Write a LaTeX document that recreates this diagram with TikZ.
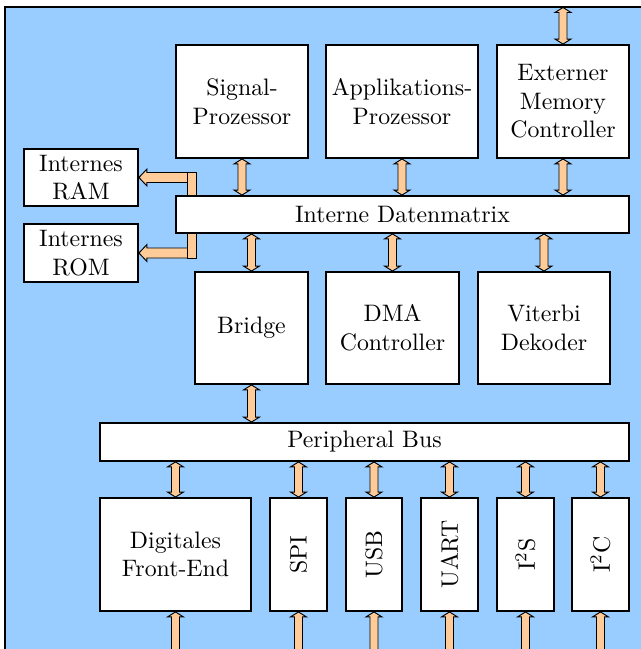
\documentclass[tikz,border=0pt]{standalone}
\usepackage{graphicx}
\usetikzlibrary{calc}
\definecolor{bgblue}{HTML}{99CCFF}
\definecolor{peach}{HTML}{FFCC99}
\tikzset{
  blk/.style={draw, thick, fill=white, inner sep=0pt, align=center},
  thickarrow/.style={draw=black, line width=0.4pt, fill=peach, line join=miter},
}
% box from pixel corners
\newcommand\blk[6]{\node[blk, minimum width={(#4-#2)*0.42pt}, minimum height={(#5-#3)*0.42pt}] (#1) at ({(#2+#4)/2},{(#3+#5)/2}) {#6};}
% vertical double arrow from top point #1 to bottom point #2 (x of #1)
\newcommand\varr[2]{\draw[thickarrow] let \p1=#1, \p2=#2 in
  (\x1,\y1) -- (\x1+3.36pt,\y1-2.1pt) -- (\x1+1.68pt,\y1-2.1pt) -- (\x1+1.68pt,\y2+2.1pt)
  -- (\x1+3.36pt,\y2+2.1pt) -- (\x1,\y2) -- (\x1-3.36pt,\y2+2.1pt) -- (\x1-1.68pt,\y2+2.1pt)
  -- (\x1-1.68pt,\y1-2.1pt) -- (\x1-3.36pt,\y1-2.1pt) -- cycle;}
\begin{document}
\begin{tikzpicture}[x=0.42pt,y=-0.42pt]
\useasboundingbox (0,0) rectangle (641,649);
\clip (0,0) rectangle (641,649);
\draw[fill=bgblue, line width=0.6pt] (5,7) rectangle (700,720);

\blk{sig}{176}{45}{308}{158}{Signal-\\Prozessor}
\blk{app}{326}{45}{478}{158}{Applikations-\\Prozessor}
\blk{emc}{497}{45}{629}{158}{Externer\\Memory\\Controller}
\blk{ram}{24}{149}{138}{206}{Internes\\RAM}
\blk{rom}{24}{224}{138}{282}{Internes\\ROM}
\blk{dm}{176}{196}{629}{233}{Interne Datenmatrix}
\blk{bri}{195}{272}{308}{384}{Bridge}
\blk{dma}{326}{272}{459}{384}{DMA\\Controller}
\blk{vit}{478}{272}{610}{384}{Viterbi\\Dekoder}
\blk{pb}{100}{423}{629}{461}{Peripheral Bus}
\blk{dfe}{100}{498}{251}{611}{Digitales\\Front-End}
\blk{spi}{270}{498}{327}{611}{\rotatebox{90}{SPI}}
\blk{usb}{346}{498}{402}{611}{\rotatebox{90}{USB}}
\blk{uart}{421}{498}{478}{611}{\rotatebox{90}{UART}}
\blk{iis}{497}{498}{554}{611}{\rotatebox{90}{I$^2$S}}
\blk{iic}{572}{498}{629}{611}{\rotatebox{90}{I$^2$C}}

\coordinate (extop) at (563,7.5);
\coordinate (bottom) at (0,665);

% top connectors
\varr{(extop)}{(emc.north)}
\varr{(sig.south)}{(sig.south |- dm.north)}
\varr{(app.south)}{(app.south |- dm.north)}
\varr{(emc.south)}{(emc.south |- dm.north)}
% matrix to middle row
\varr{(bri.north |- dm.south)}{(bri.north)}
\varr{(dma.north |- dm.south)}{(dma.north)}
\varr{(vit.north |- dm.south)}{(vit.north)}
% bridge to peripheral bus
\varr{(bri.south)}{(bri.south |- pb.north)}
% peripheral bus to peripherals and beyond
\foreach \bx in {dfe,spi,usb,uart,iis,iic}{
  \varr{(\bx.north |- pb.south)}{(\bx.north)}
  \varr{(\bx.south)}{(\bx.south |- bottom)}
}

% RAM connector
\draw[thickarrow] let \p1=(ram.east), \p2=(dm.north west) in
  (\x1,\y1) -- (\x1+3.36pt,\y1+3.57pt) -- (\x1+3.36pt,\y1+2.1pt) -- (\x2+8.82pt,\y1+2.1pt)
  -- (\x2+8.82pt,\y1-2.1pt) -- (\x1+3.36pt,\y1-2.1pt) -- (\x1+3.36pt,\y1-3.57pt) -- cycle;
\draw[thickarrow] let \p1=(ram.east), \p2=(dm.north west) in
  (\x2+5.04pt,\y1+2.1pt) rectangle (\x2+8.82pt,\y2);
% ROM connector
\draw[thickarrow] let \p1=(rom.east), \p2=(dm.south west) in
  (\x1,\y1) -- (\x1+3.36pt,\y1+3.57pt) -- (\x1+3.36pt,\y1+2.1pt) -- (\x2+8.82pt,\y1+2.1pt)
  -- (\x2+8.82pt,\y1-2.1pt) -- (\x1+3.36pt,\y1-2.1pt) -- (\x1+3.36pt,\y1-3.57pt) -- cycle;
\draw[thickarrow] let \p1=(rom.east), \p2=(dm.south west) in
  (\x2+5.04pt,\y2) rectangle (\x2+8.82pt,\y1-2.1pt);
\end{tikzpicture}
\end{document}
